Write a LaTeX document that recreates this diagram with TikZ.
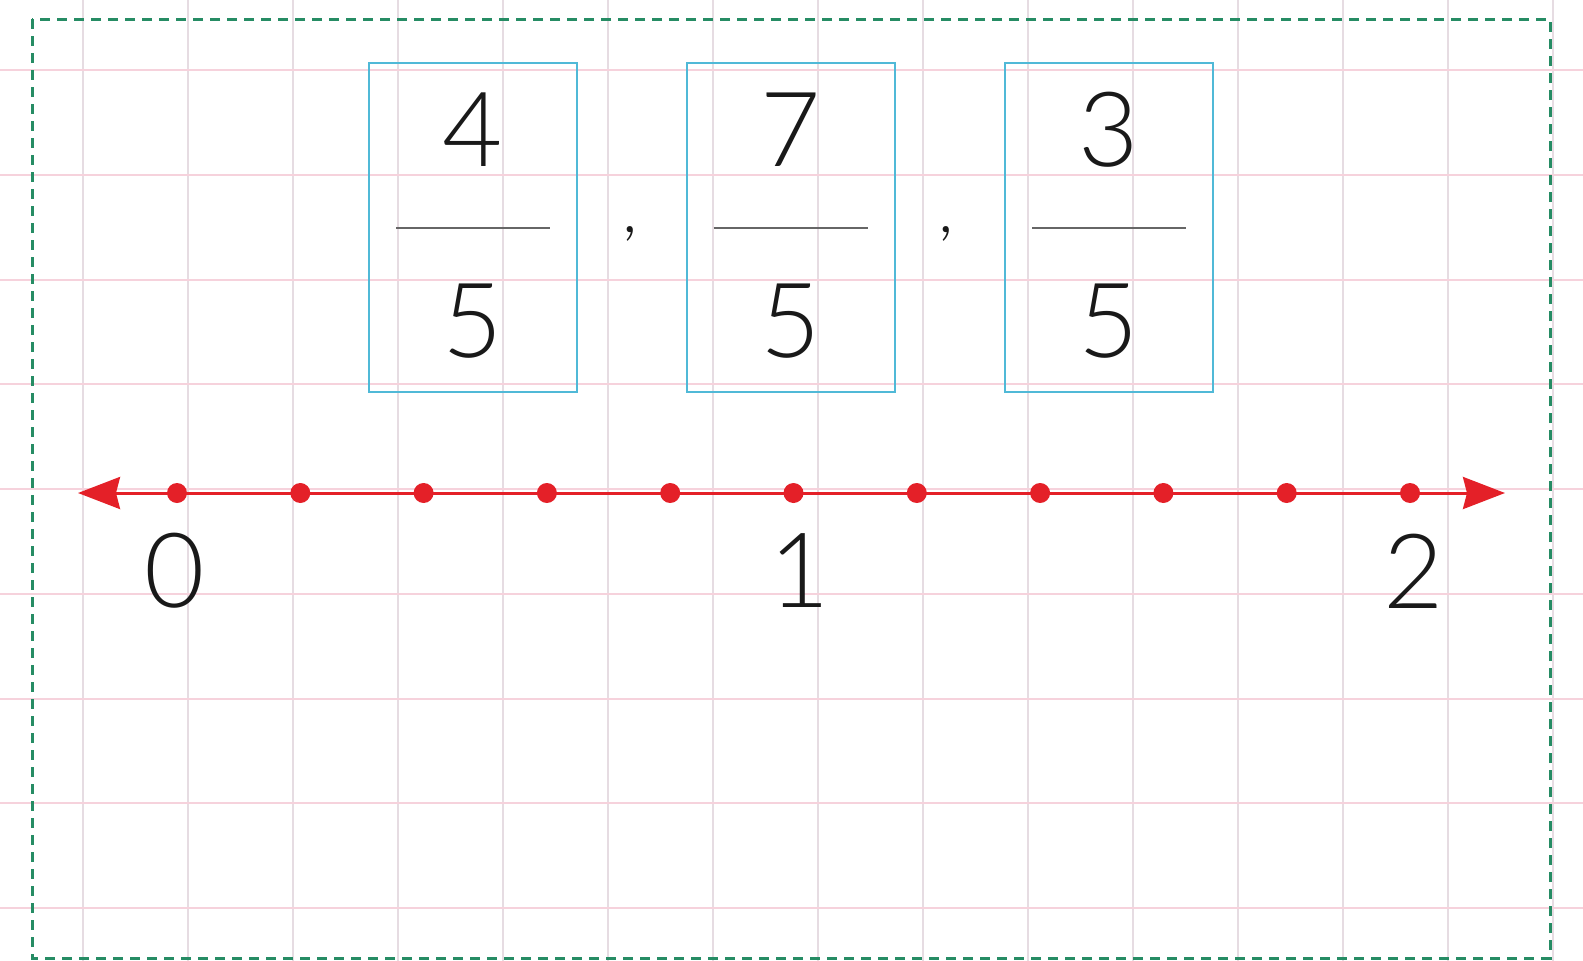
\documentclass[tikz,border=0pt]{standalone}
\usepackage{fontspec}
\setmainfont{Lato}[UprightFont={* Light}]
\usetikzlibrary{arrows.meta}
\definecolor{vgrid}{RGB}{230,220,226}
\definecolor{hgrid}{RGB}{246,210,220}
\definecolor{frameg}{RGB}{38,140,100}
\definecolor{boxblue}{RGB}{80,185,215}
\definecolor{linered}{RGB}{228,32,40}
\definecolor{ink}{RGB}{25,25,25}
\tikzset{
  vline/.style={draw=vgrid, line width=2pt},
  hline/.style={draw=hgrid, line width=2pt},
  frame/.style={draw=frameg, line width=3pt, dash pattern=on 10pt off 7pt},
  fracbox/.style={draw=boxblue, line width=2pt, minimum width=208pt, minimum height=329pt, inner sep=0pt},
  fracbar/.style={draw=gray!80!black, line width=2pt},
  digit/.style={text=ink, inner sep=0pt, font=\fontsize{104}{104}\selectfont},
  commatext/.style={text=ink, inner sep=0pt, font=\fontsize{70}{70}\selectfont},
  dotpt/.style={circle, fill=linered, minimum size=20pt, inner sep=0pt},
  numline/.style={draw=linered, line width=3pt, {Stealth[length=42pt,width=32pt,inset=4pt]}-{Stealth[length=42pt,width=32pt,inset=4pt]}},
}
\begin{document}
\begin{tikzpicture}[x=1pt,y=-1pt]
\useasboundingbox (0,0) rectangle (1583,961);
\fill[white] (0,0) rectangle (1583,961);
% grid
\foreach \i in {0,...,14} {\draw[vline] (83+105*\i,0) -- (83+105*\i,961);}
\foreach \j in {0,...,8} {\draw[hline] (0,70+104.75*\j) -- (1583,70+104.75*\j);}
% dashed frame
\draw[frame] (32,19) rectangle (1550,958);
% fraction boxes
\foreach \n/\cx/\num in {a/473/4, b/790.5/7, c/1109/3} {
  \node[fracbox] (box\n) at (\cx,227) {};
  \node[digit] (num\n) at (\cx,130) {\num};
  \node[digit] (den\n) at (\cx,321) {5};
  \draw[fracbar] ([xshift=28pt,yshift=-0.7pt]box\n.west) -- ([xshift=-28pt,yshift=-0.7pt]box\n.east);
}
\node[commatext, anchor=base] (comma1) at (630,232) {,};
\node[commatext, anchor=base] (comma2) at (946,232) {,};
% number line
\coordinate (L) at (78,493);
\coordinate (R) at (1505,493);
\draw[numline] (L) -- (R);
\foreach \k in {0,...,10} {\node[dotpt] (d\k) at (177+123.3*\k,493) {};}
\node[digit] (lab0) at (175,571) {0};
\node[digit] (lab1) at (800,571) {1};
\node[digit] (lab2) at (1414,571) {2};
\end{tikzpicture}
\end{document}
